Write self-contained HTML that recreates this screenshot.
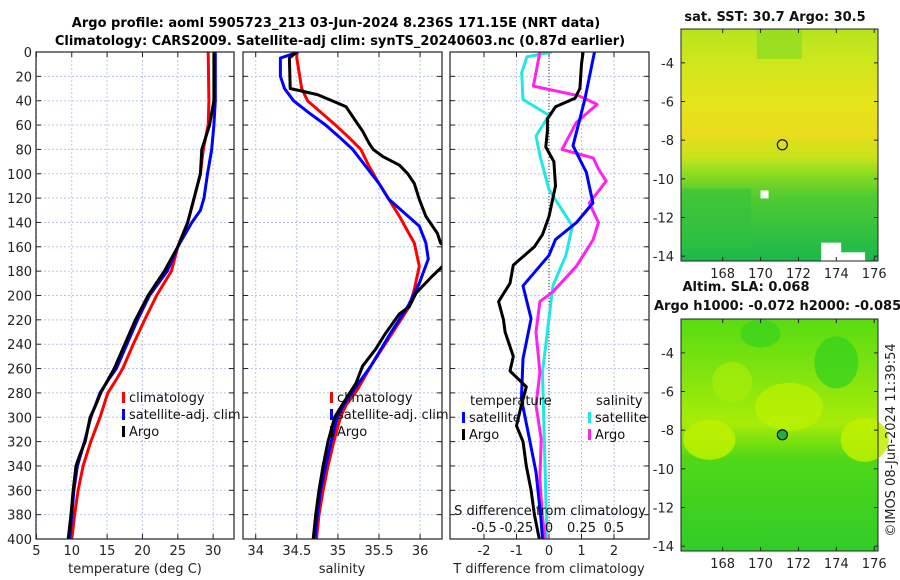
<!DOCTYPE html>
<html><head><meta charset="utf-8"><style>
html,body{margin:0;padding:0;background:#fff;}
svg{display:block;font-family:"DejaVu Sans","Liberation Sans",sans-serif;}
</style></head><body>
<svg id="fig" width="900" height="580" viewBox="0 0 900 580" xmlns="http://www.w3.org/2000/svg">
<defs>
<linearGradient id="sstg" x1="0" y1="0" x2="0" y2="1">
<stop offset="0" stop-color="#b4e41c"/><stop offset="0.12" stop-color="#cce61c"/><stop offset="0.3" stop-color="#e4e41a"/><stop offset="0.45" stop-color="#eadc1c"/><stop offset="0.55" stop-color="#c8e41c"/><stop offset="0.62" stop-color="#90dc20"/><stop offset="0.72" stop-color="#50cc30"/><stop offset="1" stop-color="#1cb84c"/>
</linearGradient>
<linearGradient id="slag" x1="0" y1="0" x2="0" y2="1">
<stop offset="0" stop-color="#58dc10"/><stop offset="0.25" stop-color="#84e410"/><stop offset="0.45" stop-color="#a8ec08"/><stop offset="0.6" stop-color="#50d818"/><stop offset="1" stop-color="#30cc28"/>
</linearGradient>
</defs>
<text x="336" y="27" font-size="13" font-weight="bold" text-anchor="middle">Argo profile: aoml 5905723_213 03-Jun-2024 8.236S 171.15E (NRT data)</text>
<text x="340" y="45" font-size="13" font-weight="bold" text-anchor="middle">Climatology: CARS2009. Satellite-adj clim: synTS_20240603.nc (0.87d earlier)</text>
<g id="p1"></g>
<g id="p2"></g>
<g id="p3"></g>
<g id="m1"></g>
<g id="m2"></g>
<text transform="translate(895,440) rotate(-90)" font-size="13" text-anchor="middle" fill="#222">©IMOS 08-Jun-2024 11:39:54</text>
</svg>
<script>
// ---- data ----
const depthTicks=[0,20,40,60,80,100,120,140,160,180,200,220,240,260,280,300,320,340,360,380,400];
const tTicks=[5,10,15,20,25,30];
const sTicks=[34,34.5,35,35.5,36];
const dTTicks=[-2,-1,0,1,2];
const dSTicks=[-0.5,-0.25,0,0.25,0.5];
const tClimDepth=[0,40,60,80,100,120,140,160,180,200,220,240,260,270,280,300,320,340,360,380,400];
const tClim=[29.3,29.4,29.3,28.6,28.2,27.3,26.4,25,24.1,22,20.3,18.7,17.2,16.2,15.1,14,12.7,11.6,10.9,10.4,10];
const tSatDepth=[0,40,60,80,100,120,130,140,160,180,200,220,240,260,270,280,300,320,340,360,380,400];
const tSat=[30.3,30.3,30.1,29.8,29.2,28.7,28.2,27,25,23.5,21,19.3,17.8,16.3,15.1,14,12.7,11.8,10.8,10.3,10,9.7];
const tArgoDepth=[0,40,50,60,80,90,100,120,140,160,180,200,220,240,260,280,290,300,320,330,340,360,380,400];
const tArgo=[30.1,30.1,29.8,29.5,28.4,28.3,28.2,27.3,26.4,25,23.1,20.8,19.0,17.5,16,14.1,13.4,12.6,11.9,11.2,10.6,10.2,9.9,9.5];
const sClimDepth=[0,5,30,40,50,60,70,80,94,108,135,157,176,195,209,231,258,277,290,300,320,340,360,380,400];
const sClim=[34.5,34.5,34.56,34.63,34.8,34.97,35.13,35.28,35.38,35.5,35.75,35.93,35.99,35.93,35.87,35.66,35.4,35.24,35.1,35.03,34.95,34.88,34.82,34.77,34.74];
const sSatDepth=[0,5,20,30,40,50,60,70,80,108,121,143,157,170,190,209,231,258,277,290,300,320,340,360,380,400];
const sSat=[34.52,34.3,34.3,34.35,34.46,34.65,34.85,35.02,35.18,35.5,35.62,35.99,36.07,36.1,35.99,35.85,35.64,35.4,35.2,35.07,34.99,34.92,34.85,34.79,34.75,34.72];
const sArgoDepth=[0,5,30,35,40,45,55,65,75,80,86,93,100,108,121,135,149,157,165,173,184,198,209,215,231,244,258,272,290,300,320,340,360,380,400];
const sArgo=[34.5,34.41,34.42,34.75,34.93,35.1,35.2,35.3,35.38,35.43,35.55,35.75,35.85,35.93,35.99,36.07,36.21,36.25,36.4,36.32,36.15,35.95,35.87,35.75,35.58,35.46,35.3,35.22,35.05,34.96,34.88,34.82,34.77,34.73,34.7];
const dTArgoDepth=[0,10,30,38,45,55,65,78,90,110,135,150,160,175,190,205,220,230,250,262,275,290,307,320,340,360,380,400];
const dTArgo=[1.05,1.0,0.95,0.8,0.2,-0.05,-0.05,-0.1,0.15,0.2,0.0,-0.2,-0.45,-1.1,-1.2,-1.55,-1.4,-1.35,-1.1,-1.2,-0.7,-0.85,-1.0,-0.8,-0.7,-0.55,-0.45,-0.3];
const dTSatDepth=[0,39,77,99,124,140,154,167,192,219,252,285,318,345,383,400];
const dTSat=[1.4,1.1,0.74,1.15,1.35,0.85,0.2,0.0,-0.8,-0.55,-0.8,-0.85,-0.6,-0.4,-0.25,-0.2];
const dSSatDepth=[0,4,17,39,52,69,85,113,143,167,192,263,383,400];
const dSSat=[0.02,-0.17,-0.21,-0.2,0.0,-0.1,-0.07,0.0,0.18,0.13,0.03,-0.05,-0.02,-0.02];
const dSArgoDepth=[0,28,36,43,58,80,87,96,106,124,140,154,176,197,205,230,263,290,318,351,383,400];
const dSArgo=[-0.07,-0.12,0.23,0.37,0.21,0.1,0.34,0.38,0.44,0.31,0.38,0.34,0.21,0.03,-0.07,-0.1,-0.07,-0.1,-0.06,-0.07,-0.05,-0.03];
const latTicks=[-4,-6,-8,-10,-12,-14];
const lonTicks=[168,170,172,174,176];
const argoLon=[171.15];
const argoLat=[-8.236];

// ---- helpers ----
const NS="http://www.w3.org/2000/svg";
function mk(parent,tag,attrs,text){const e=document.createElementNS(NS,tag);for(const k in attrs)e.setAttribute(k,attrs[k]);if(text!==undefined)e.textContent=text;parent.appendChild(e);return e;}
const TOP=52,BOT=539;
const yD=d=>TOP+d*(BOT-TOP)/400;
function frame(g,x0,x1,xticks,xs,yLabels,name){
  for(const d of depthTicks){const gl=mk(g,'line',{x1:x0,x2:x1,y1:yD(d),y2:yD(d),stroke:'#b8c4e8','stroke-width':1,'stroke-dasharray':'2,2'});
  
  
  mk(g,'line',{x1:x0,x2:x0+5,y1:yD(d),y2:yD(d),stroke:'#222'});mk(g,'line',{x1:x1-5,x2:x1,y1:yD(d),y2:yD(d),stroke:'#222'});
  if(yLabels){const t=mk(g,'text',{x:x0-4,y:yD(d)+5,'font-size':13,'text-anchor':'end',fill:'#222'},String(d));
  
  }}
  for(const v of xticks){const x=xs(v);const gl=mk(g,'line',{x1:x,x2:x,y1:TOP,y2:BOT,stroke:'#b8c4e8','stroke-dasharray':'2,2'});
  
  
  mk(g,'line',{x1:x,x2:x,y1:TOP,y2:TOP+5,stroke:'#222'});mk(g,'line',{x1:x,x2:x,y1:BOT-5,y2:BOT,stroke:'#222'});
  const t=mk(g,'text',{x:x,y:BOT+16,'font-size':13,'text-anchor':'middle',fill:'#222'},String(v));
  
  }
}
function box(g,x0,x1){const r=mk(g,'rect',{x:x0,y:TOP,width:x1-x0,height:BOT-TOP,fill:'none',stroke:'#222','stroke-width':1.2});

}
function line(g,depths,vals,xs,color,name,x0,x1){
  const cp='c'+Math.round(x0);
  if(!document.getElementById(cp)){const c=mk(document.querySelector('defs'),'clipPath',{id:cp});mk(c,'rect',{x:x0,y:TOP,width:x1-x0,height:BOT-TOP});}
  const pts=depths.map((d,i)=>xs(vals[i]).toFixed(1)+','+yD(d).toFixed(1)).join(' ');
  const p=mk(g,'polyline',{points:pts,fill:'none',stroke:color,'stroke-width':3,'stroke-linejoin':'round','clip-path':'url(#'+cp+')'});
  
  
}
function legend(g,x,y,color,label){
  const m=mk(g,'rect',{x:x,y:y-9,width:3,height:11,fill:color});
  
  
  const t=mk(g,'text',{x:x+7,y:y+1,'font-size':13,fill:'#111'},label);
  
  
}

// ---- panel 1 ----
const g1=document.getElementById('p1');const X1a=36,X1b=234;
const xT=v=>36.4+(v-5)*7.07;
frame(g1,X1a,X1b,tTicks,xT,true,'temperature');
line(g1,tClimDepth,tClim,xT,'#ff0000','climatology-temp-line',X1a,X1b);
line(g1,tSatDepth,tSat,xT,'#0000ff','satellite-temp-line',X1a,X1b);
line(g1,tArgoDepth,tArgo,xT,'#000000','argo-temp-line',X1a,X1b);
box(g1,X1a,X1b);
legend(g1,122,401,'#ff0000','climatology');legend(g1,122,418,'#0000ff','satellite-adj. clim');legend(g1,122,435,'#000000','Argo');
{const t=mk(g1,'text',{x:135,y:573,'font-size':13,'text-anchor':'middle',fill:'#222'},'temperature (deg C)');}

// ---- panel 2 ----
const g2=document.getElementById('p2');const X2a=243,X2b=442;
const xS=v=>255.7+(v-34)*82.2;
frame(g2,X2a,X2b,sTicks,xS,false,'salinity');
line(g2,sClimDepth,sClim,xS,'#ff0000','climatology-sal-line',X2a,X2b);
line(g2,sSatDepth,sSat,xS,'#0000ff','satellite-sal-line',X2a,X2b);
line(g2,sArgoDepth,sArgo,xS,'#000000','argo-sal-line',X2a,X2b);
box(g2,X2a,X2b);
legend(g2,330,401,'#ff0000','climatology');legend(g2,330,418,'#0000ff','satellite-adj. clim');legend(g2,330,435,'#000000','Argo');
{const t=mk(g2,'text',{x:342,y:573,'font-size':13,'text-anchor':'middle',fill:'#222'},'salinity');}

// ---- panel 3 ----
const g3=document.getElementById('p3');const X3a=450,X3b=649;
const xDT=v=>549+v*32.5;const xDS=v=>549+v*130;
frame(g3,X3a,X3b,dTTicks,xDT,false,'t-difference');
mk(g3,'line',{x1:549,x2:549,y1:TOP,y2:BOT,stroke:'#333','stroke-dasharray':'1,2'});
line(g3,dSSatDepth,dSSat,xDS,'#22e6e6','satellite-sal-diff-line',X3a,X3b);
line(g3,dSArgoDepth,dSArgo,xDS,'#ff22ee','argo-sal-diff-line',X3a,X3b);
line(g3,dTSatDepth,dTSat,xDT,'#0000ff','satellite-temp-diff-line',X3a,X3b);
line(g3,dTArgoDepth,dTArgo,xDT,'#000000','argo-temp-diff-line',X3a,X3b);
box(g3,X3a,X3b);
{const t=mk(g3,'text',{x:470,y:405,'font-size':13,fill:'#111'},'temperature');}
{const t=mk(g3,'text',{x:596,y:405,'font-size':13,fill:'#111'},'salinity');}
legend(g3,462,421,'#0000ff','satellite');legend(g3,462,438,'#000000','Argo');
legend(g3,588,421,'#22e6e6','satellite');legend(g3,588,438,'#ff22ee','Argo');
{const t=mk(g3,'text',{x:550,y:515,'font-size':13,'text-anchor':'middle',fill:'#111'},'S difference from climatology');}
for(const v of dSTicks){const t=mk(g3,'text',{x:xDS(v),y:532,'font-size':13,'text-anchor':'middle',fill:'#111'},String(v));

}
{const t=mk(g3,'text',{x:549,y:573,'font-size':13,'text-anchor':'middle',fill:'#222'},'T difference from climatology');}

// ---- maps ----
function map(gid,y0,y1,grad,title1,title2,filledMarker){
  const g=document.getElementById(gid);const x0=681,x1=878;
  const latY=lat=>y0+((-2.25)-lat)*(y1-y0)/12;
  const lonX=lon=>681+(lon-165.8)*(197/10.4);
  const r=mk(g,'rect',{x:x0,y:y0,width:x1-x0,height:y1-y0,fill:'url(#'+grad+')'});
  
  
  if(grad==='sstg'){
    mk(g,'rect',{x:lonX(169.8),y:y0,width:45,height:30,fill:'#90dc20',opacity:0.8});
    mk(g,'rect',{x:lonX(165.8),y:latY(-10.5),width:70,height:60,fill:'#30c040',opacity:0.5});
    mk(g,'rect',{x:lonX(173.2),y:latY(-13.3),width:20,height:30,fill:'#ffffff'});
    mk(g,'rect',{x:lonX(174.2),y:latY(-13.8),width:25,height:20,fill:'#ffffff'});
    mk(g,'rect',{x:lonX(170),y:latY(-10.6),width:8,height:8,fill:'#ffffff'});
  } else {
    mk(g,'ellipse',{cx:lonX(167.3),cy:latY(-8.5),rx:26,ry:20,fill:'#c0f000',opacity:0.85});
    mk(g,'ellipse',{cx:lonX(175.5),cy:latY(-8.5),rx:24,ry:22,fill:'#c0f000',opacity:0.85});
    mk(g,'ellipse',{cx:lonX(171.5),cy:latY(-6.8),rx:34,ry:24,fill:'#bcf000',opacity:0.75});
    mk(g,'ellipse',{cx:lonX(168.5),cy:latY(-5.5),rx:20,ry:20,fill:'#a8ec08',opacity:0.7});
    mk(g,'ellipse',{cx:lonX(174),cy:latY(-4.5),rx:22,ry:26,fill:'#30d020',opacity:0.7});
    mk(g,'ellipse',{cx:lonX(170),cy:latY(-3),rx:20,ry:14,fill:'#30d020',opacity:0.6});
  }
  for(let i=0;i<argoLon.length;i++){const c=mk(g,'circle',{cx:lonX(argoLon[i]),cy:latY(argoLat[i]),r:5,fill:filledMarker?'#20b040':'none',stroke:'#111','stroke-width':1.2});
  
  }
  const b=mk(g,'rect',{x:x0,y:y0,width:x1-x0,height:y1-y0,fill:'none',stroke:'#222','stroke-width':1});
  
  
  for(const la of latTicks){const y=latY(la);mk(g,'line',{x1:x0,x2:x0+4,y1:y,y2:y,stroke:'#222'});mk(g,'line',{x1:x1-4,x2:x1,y1:y,y2:y,stroke:'#222'});
  const t=mk(g,'text',{x:x0-7,y:y+5,'font-size':13,'text-anchor':'end',fill:'#222'},String(la));
  
  }
  for(const lo of lonTicks){const x=lonX(lo);mk(g,'line',{x1:x,x2:x,y1:y1-4,y2:y1,stroke:'#222'});mk(g,'line',{x1:x,x2:x,y1:y0,y2:y0+4,stroke:'#222'});
  const t=mk(g,'text',{x:x,y:y1+17,'font-size':13,'text-anchor':'middle',fill:'#222'},String(lo));
  
  }
  const t1=mk(g,'text',{x:title2?746:775,y:title2?y0-28:y0-8,'font-size':13,'font-weight':'bold','text-anchor':'middle',fill:'#111'},title1);
  
  
  if(title2){const t2=mk(g,'text',{x:654,y:y0-9,'font-size':13,'font-weight':'bold',fill:'#111'},title2);
  
  }
}
map('m1',29,261,'sstg','sat. SST: 30.7 Argo: 30.5',null,false);
map('m2',319,551,'slag','Altim. SLA: 0.068','Argo h1000: -0.072 h2000: -0.085',true);
</script>
</body></html>
